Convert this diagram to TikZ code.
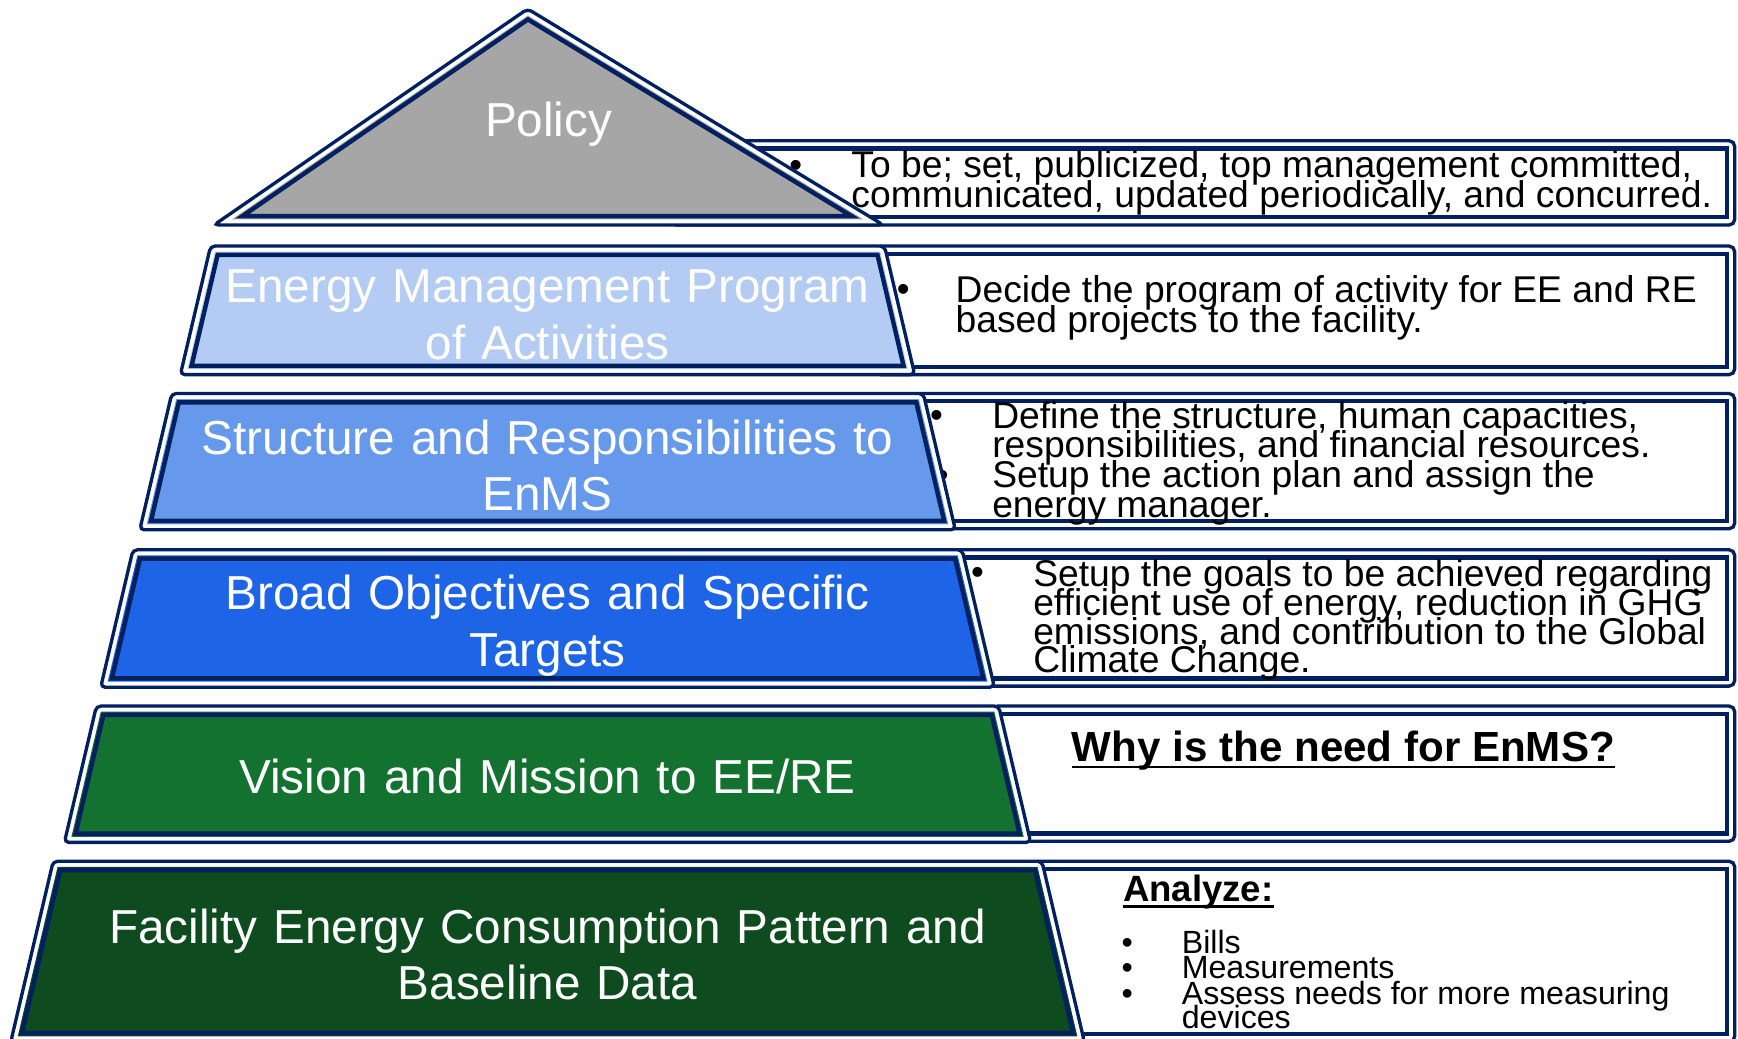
\documentclass[tikz,border=0pt]{standalone}
\usepackage{fontspec}
\setmainfont{Liberation Sans}
\definecolor{navy}{HTML}{002060}
\definecolor{polgray}{HTML}{A6A6A6}
\definecolor{layA}{HTML}{B4CBF4}
\definecolor{layB}{HTML}{6699EC}
\definecolor{layC}{HTML}{1E64E6}
\definecolor{layD}{HTML}{13722F}
\definecolor{layE}{HTML}{0E4B1F}
\newcommand\trapd[4]{(494-#3+0.792*#4,#1+#4) -- (494+#3-0.792*#4,#1+#4) -- (494+#3+0.235*#2-0.235*#1-1.262*#4,#2-#4) -- (494-#3-0.235*#2+0.235*#1+1.262*#4,#2-#4) -- cycle}
\newcommand\pyrlayer[4]{%
  \path[outerline, rounded corners=4pt] \trapd{#1}{#2}{#3}{0};
  \path[fill=#4] \trapd{#1}{#2}{#3}{5};
  \path[innerline] \trapd{#1}{#2}{#3}{8};
}
\newcommand\sidebox[3]{%
  \path[outerline, rounded corners=5pt] (#1,#2) rectangle (1565,#3);
  \path[boxinner] (#1+7,#2+7) rectangle (1558,#3-7);
}
\begin{document}
\begin{tikzpicture}[x=1pt,y=-1pt,
  outerline/.style={draw=navy,line width=3pt,fill=white},
  innerline/.style={draw=navy,line width=4pt},
  boxinner/.style={draw=navy,line width=4pt,fill=white},
  laytext/.style={text=white,font=\fontsize{43}{51}\selectfont,align=center,text width=900pt,inner sep=0pt,anchor=base},
  rline/.style={font=\fontsize{33.6}{27}\selectfont,inner sep=0pt,anchor=base west},
  sline/.style={font=\fontsize{29}{23}\selectfont,inner sep=0pt,anchor=base west},
  bul/.style={font=\fontsize{33}{27}\selectfont,inner sep=0pt,anchor=base},
  bulsm/.style={font=\fontsize{29}{23}\selectfont,inner sep=0pt,anchor=base},
  headtext/.style={font=\bfseries\fontsize{38}{44}\selectfont,inner sep=0pt,anchor=base},
  anatext/.style={font=\bfseries\fontsize{33}{38}\selectfont,inner sep=0pt,anchor=base west},
  uline/.style={line width=2.5pt}
]
\useasboundingbox (0,0) rectangle (1568,937);
\clip (0,0) rectangle (1568,937);

% ---------- right boxes ----------
\sidebox{605}{127}{203}
\node[bul] (b1) at (718,160) {\textbullet};
\node[rline] (t1a) at (768,160) {To be; set, publicized, top management committed,};
\node[rline] (t1b) at (768,187) {communicated, updated periodically, and concurred.};

\sidebox{790}{222}{338}
\node[bul] (b2) at (815,272) {\textbullet};
\node[rline] (t2a) at (862,273) {Decide the program of activity for EE and RE};
\node[rline] (t2b) at (862,300) {based projects to the facility.};

\sidebox{825}{355}{477}
\node[bul] (b3a) at (845,386) {\textbullet};
\node[bul] (b3b) at (850,440) {\textbullet};
\node[rline] (t3a) at (895,387) {Define the structure, human capacities,};
\node[rline] (t3b) at (895,413) {responsibilities, and financial resources.};
\node[rline] (t3c) at (895,440) {Setup the action plan and assign the};
\node[rline] (t3d) at (895,467) {energy manager.};

\sidebox{860}{496}{619}
\node[bul] (b4) at (882,527) {\textbullet};
\node[rline] (t4a) at (932,529) {Setup the goals to be achieved regarding};
\node[rline] (t4b) at (932,555) {efficient use of energy, reduction in GHG};
\node[rline] (t4c) at (932,581) {emissions, and contribution to the Global};
\node[rline] (t4d) at (932,607) {Climate Change.};

\sidebox{895}{637}{759}
\node[headtext] (why) at (1212,687) {Why is the need for EnMS?};
\draw[uline] ([yshift=-5pt]why.base west) -- ([yshift=-5pt]why.base east);

\sidebox{932}{777}{940}
\node[anatext] (ana) at (1013,813) {Analyze:};
\draw[uline] ([yshift=-5pt]ana.base west) -- ([yshift=-5pt]ana.base east);
\node[bulsm] (b6a) at (1017,860) {\textbullet};
\node[bulsm] (b6b) at (1017,883) {\textbullet};
\node[bulsm] (b6c) at (1017,906) {\textbullet};
\node[sline] (t6a) at (1066,860) {Bills};
\node[sline] (t6b) at (1066,883) {Measurements};
\node[sline] (t6c) at (1066,906) {Assess needs for more measuring};
\node[sline] (t6d) at (1066,928) {devices};

% ---------- pyramid ----------
\path[outerline, rounded corners=4pt] (476,8) -- (797,203) -- (193,203) -- cycle;
\path[fill=polgray] (476.2,14) -- (779.1,198) -- (209.1,198) -- cycle;
\path[innerline] (476.3,17.5) -- (768.4,195) -- (218.7,195) -- cycle;
\node[laytext] (policy) at (495,123) {Policy};

\pyrlayer{222}{338}{304}{layA}
\node[laytext] (l1) at (494,273) {Energy Management Program\\of Activities};

\pyrlayer{355}{478}{339}{layB}
\node[laytext] (l2) at (494,410) {Structure and Responsibilities to\\EnMS};

\pyrlayer{496}{620}{374}{layC}
\node[laytext] (l3) at (494,550) {Broad Objectives and Specific\\Targets};

\pyrlayer{637}{760}{407}{layD}
\node[laytext] (l4) at (494,716) {Vision and Mission to EE/RE};

\pyrlayer{777}{940}{446}{layE}
\node[laytext] (l5) at (494,851) {Facility Energy Consumption Pattern and\\Baseline Data};
\end{tikzpicture}
\end{document}
